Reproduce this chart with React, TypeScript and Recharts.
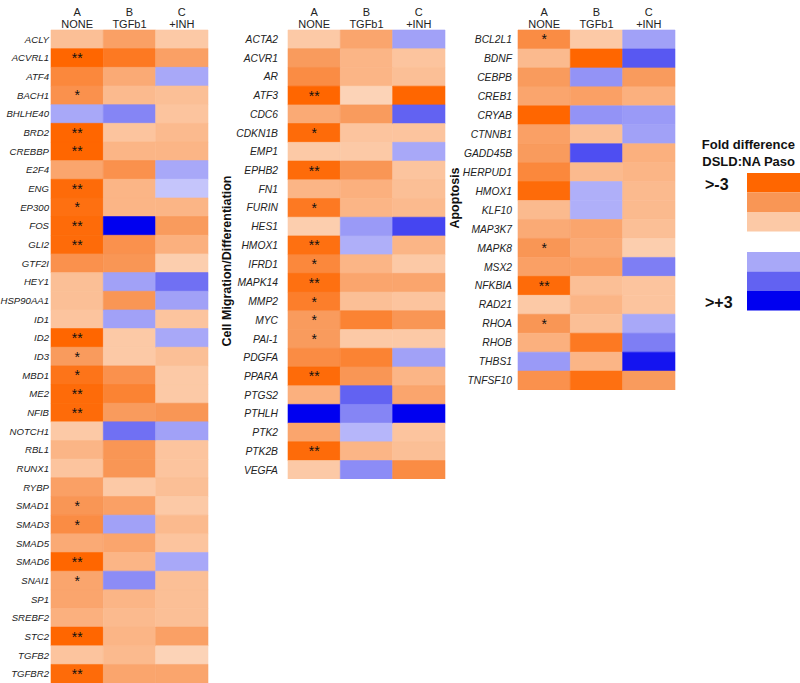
import { BarChart, Bar, XAxis, YAxis, Cell, LabelList } from 'recharts'

// the page keeps the browser's 8px body margin; drop it so the figure can use the full frame
if (typeof document !== 'undefined') document.body.style.margin = '0'

const COL_LETTERS = ['A', 'B', 'C']
const TREATMENTS = ['NONE', 'TGFb1', '+INH']

// negative = higher in NA Paso (orange), positive = higher in DSLD (blue)
const genes1 = [
  'ACLY', 'ACVRL1', 'ATF4', 'BACH1', 'BHLHE40', 'BRD2', 'CREBBP', 'E2F4', 'ENG', 'EP300',
  'FOS', 'GLI2', 'GTF2I', 'HEY1', 'HSP90AA1', 'ID1', 'ID2', 'ID3', 'MBD1', 'ME2',
  'NFIB', 'NOTCH1', 'RBL1', 'RUNX1', 'RYBP', 'SMAD1', 'SMAD3', 'SMAD5', 'SMAD6', 'SNAI1',
  'SP1', 'SREBF2', 'STC2', 'TGFB2', 'TGFBR2',
]
const none1 = [
  -1.2, -3, -2.3, -2.1, 1.0, -3, -3, -1.7, -2.9, -2.8,
  -2.9, -2.9, -2.1, -1.2, -1.2, -1.1, -3, -1.9, -2.7, -2.9,
  -2.9, -1.0, -1.4, -1.1, -1.8, -2.0, -2.2, -1.6, -3, -1.7,
  -1.7, -1.5, -3, -1.1, -2.9,
]
const tgf1 = [
  -1.8, -2.6, -1.6, -1.3, 1.5, -1.1, -1.4, -2.1, -1.4, -1.4,
  3, -2.1, -2.0, 1.1, -2.0, 1.1, -1.0, -1.0, -2.1, -2.4,
  -1.9, 1.8, -2.0, -2.0, -1.0, -1.8, 1.1, -1.7, -1.4, 1.4,
  -1.4, -1.3, -1.4, -1.3, -1.7,
]
const inh1 = [
  -1.0, -1.8, 1.0, -1.2, -1.1, -1.3, -1.4, 1.0, 0.6, -1.4,
  -1.9, -1.5, -0.9, 1.8, 1.1, -1.1, 1.0, -1.2, -1.0, -1.0,
  -2.0, 1.1, -1.1, -1.1, -1.2, -1.0, -1.3, -1.1, 1.0, -1.2,
  -1.2, -1.2, -1.8, -0.8, -1.7,
]
const stars1 = [
  '', '**', '', '*', '', '**', '**', '', '**', '*',
  '**', '**', '', '', '', '', '**', '*', '*', '**',
  '**', '', '', '', '', '*', '*', '', '**', '*',
  '', '', '**', '', '**',
]

const genes2 = [
  'ACTA2', 'ACVR1', 'AR', 'ATF3', 'CDC6', 'CDKN1B', 'EMP1', 'EPHB2', 'FN1', 'FURIN',
  'HES1', 'HMOX1', 'IFRD1', 'MAPK14', 'MMP2', 'MYC', 'PAI-1', 'PDGFA', 'PPARA', 'PTGS2',
  'PTHLH', 'PTK2', 'PTK2B', 'VEGFA',
]
const none2 = [
  -1.0, -1.9, -2.2, -3, -1.6, -2.9, -1.0, -2.9, -1.4, -2.6,
  -0.9, -2.8, -2.3, -2.8, -2.5, -1.9, -1.9, -2.2, -2.9, -1.5,
  3, -1.7, -2.9, -1.0,
]
const tgf2 = [
  -1.7, -1.4, -1.4, -0.8, -1.9, -1.1, -1.0, -2.0, -1.5, -1.4,
  1.2, 0.9, -1.4, -1.7, -1.2, -2.4, -1.0, -2.4, -2.0, 2.0,
  1.5, 0.8, -1.4, 1.4,
]
const inh2 = [
  1.1, -1.1, -1.2, -3, 2.0, -1.1, 1.0, -1.1, -1.2, -1.3,
  2.3, -1.4, -1.0, -1.7, -1.1, -2.0, -1.0, 1.1, -1.4, -1.7,
  3, -1.1, -1.2, -2.2,
]
const stars2 = [
  '', '', '', '**', '', '*', '', '**', '', '*',
  '', '**', '*', '**', '*', '*', '*', '', '**', '',
  '', '', '**', '',
]

const genes3 = [
  'BCL2L1', 'BDNF', 'CEBPB', 'CREB1', 'CRYAB', 'CTNNB1', 'GADD45B', 'HERPUD1', 'HMOX1', 'KLF10',
  'MAP3K7', 'MAPK8', 'MSX2', 'NFKBIA', 'RAD21', 'RHOA', 'RHOB', 'THBS1', 'TNFSF10',
]
const none3 = [
  -2.2, -1.3, -1.9, -1.7, -3, -1.8, -1.9, -2.3, -2.9, -1.3,
  -1.6, -2.0, -1.8, -2.9, -1.0, -2.0, -1.5, 1.2, -2.1,
]
const tgf3 = [
  -1.0, -3, 1.3, -1.8, 1.3, -1.2, 2.2, -1.3, 0.9, 0.9,
  -1.7, -1.6, -1.8, -1.2, -1.4, -1.2, -2.6, -1.4, -2.8,
]
const inh3 = [
  1.1, 2.1, -1.9, -1.5, 1.2, 1.1, -1.5, -1.4, -1.3, -1.3,
  -1.2, -0.9, 1.6, -1.1, -1.1, 1.0, 1.6, 2.8, -1.9,
]
const stars3 = [
  '*', '', '', '', '', '', '', '', '', '',
  '', '*', '', '**', '', '*', '', '', '',
]

const ORANGE: [number, number[]][] = [
  [0.5, [253, 226, 208]], [1, [252, 201, 166]], [2, [249, 150, 85]], [3, [255, 102, 0]],
]
const BLUE: [number, number[]][] = [
  [0.5, [204, 204, 252]], [1, [168, 168, 248]], [2, [98, 98, 242]], [3, [0, 0, 240]],
]

function heat(v: number) {
  const stops = v < 0 ? ORANGE : BLUE
  const a = Math.min(3, Math.max(0.5, Math.abs(v)))
  let i = 0
  while (i < stops.length - 2 && a > stops[i + 1][0]) i++
  const [a0, c0] = stops[i]
  const [a1, c1] = stops[i + 1]
  const t = (a - a0) / (a1 - a0)
  const c = c0.map((x, k) => Math.round(x + (c1[k] - x) * t))
  return `rgb(${c[0]},${c[1]},${c[2]})`
}

const FONT = '"Liberation Sans", Arial, sans-serif'
const PLOT_W = 157

function HeaderTick(props: any) {
  const { x, y, payload } = props
  const idx = Math.floor(payload.value)
  return (
    <g fontFamily={FONT} fontSize={11} fill="#222">
      <text x={x} y={y - 6} textAnchor="middle">{COL_LETTERS[idx]}</text>
      <text x={x} y={y + 6} textAnchor="middle">{TREATMENTS[idx]}</text>
    </g>
  )
}

function Panel({ genes, none, tgf, inh, stars, left, labelWidth, rowH, tickMargin, fontSize }: any) {
  const data = genes.map((g: string, i: number) => ({ gene: g, a: 1, b: 1, c: 1, star: stars[i] }))
  const height = 30 + genes.length * rowH
  const cols = [['a', none], ['b', tgf], ['c', inh]] as [string, number[]][]
  return (
    <div style={{ position: 'absolute', left, top: 0 }}>
      <BarChart
        layout="vertical"
        width={labelWidth + PLOT_W + 2}
        height={height}
        data={data}
        margin={{ top: 0, right: 2, bottom: 0, left: 0 }}
        barCategoryGap={0}
        barGap={0}
      >
        <XAxis
          type="number"
          orientation="top"
          domain={[0, 3]}
          ticks={[0.5, 1.5, 2.5]}
          height={30}
          axisLine={false}
          tickLine={false}
          tick={<HeaderTick />}
        />
        <YAxis
          type="category"
          dataKey="gene"
          width={labelWidth}
          axisLine={false}
          tickLine={false}
          interval={0}
          tickSize={2}
          tickMargin={tickMargin}
          tick={{ fontSize, fontStyle: 'italic', fill: '#222', fontFamily: FONT }}
        />
        {cols.map(([key, vals]) => (
          <Bar key={key} dataKey={key} stackId="s" isAnimationActive={false}>
            {vals.map((v, i) => (
              <Cell key={i} fill={heat(v)} stroke={heat(v)} strokeWidth={0.6} />
            ))}
            {key === 'a' && (
              <LabelList dataKey="star" position="center" fill="#111" fontSize={14} fontFamily={FONT} />
            )}
          </Bar>
        ))}
      </BarChart>
    </div>
  )
}

const LEGEND_VALUES = [-3, -2, -1, 1, 2, 3]

export default function App() {
  return (
    <div style={{ position: 'relative', width: 800, height: 683, background: '#fff', overflow: 'hidden' }}>
      <Panel genes={genes1} none={none1} tgf={tgf1} inh={inh1} stars={stars1}
        left={0} labelWidth={51} rowH={18.66} tickMargin={0} fontSize={9.6} />
      <Panel genes={genes2} none={none2} tgf={tgf2} inh={inh2} stars={stars2}
        left={210} labelWidth={78} rowH={18.72} tickMargin={8} fontSize={10.3} />
      <Panel genes={genes3} none={none3} tgf={tgf3} inh={inh3} stars={stars3}
        left={440} labelWidth={78} rowH={18.95} tickMargin={4} fontSize={10.3} />
      <svg width={800} height={683} style={{ position: 'absolute', left: 0, top: 0, pointerEvents: 'none' }}
        fontFamily={FONT} fontWeight="bold">
        <text transform="translate(231,261) rotate(-90)" textAnchor="middle" fontSize={12.5} fill="#111">
          Cell Migration/Differentiation
        </text>
        <text transform="translate(459,198) rotate(-90)" textAnchor="middle" fontSize={12.5} fill="#111">
          Apoptosis
        </text>
        <text x={795} y={149} textAnchor="end" fontSize={13} fill="#111">Fold difference</text>
        <text x={795} y={166} textAnchor="end" fontSize={13} fill="#111">DSLD:NA Paso</text>
        <text x={705} y={190} fontSize={16} fill="#111">&gt;-3</text>
        <text x={705} y={308} fontSize={16} fill="#111">&gt;+3</text>
        {LEGEND_VALUES.map((v, i) => (
          <rect key={i} x={747} y={i < 3 ? 173 + i * 19.5 : 252 + (i - 3) * 19.5} width={53} height={19.5} fill={heat(v)} />
        ))}
      </svg>
    </div>
  )
}
